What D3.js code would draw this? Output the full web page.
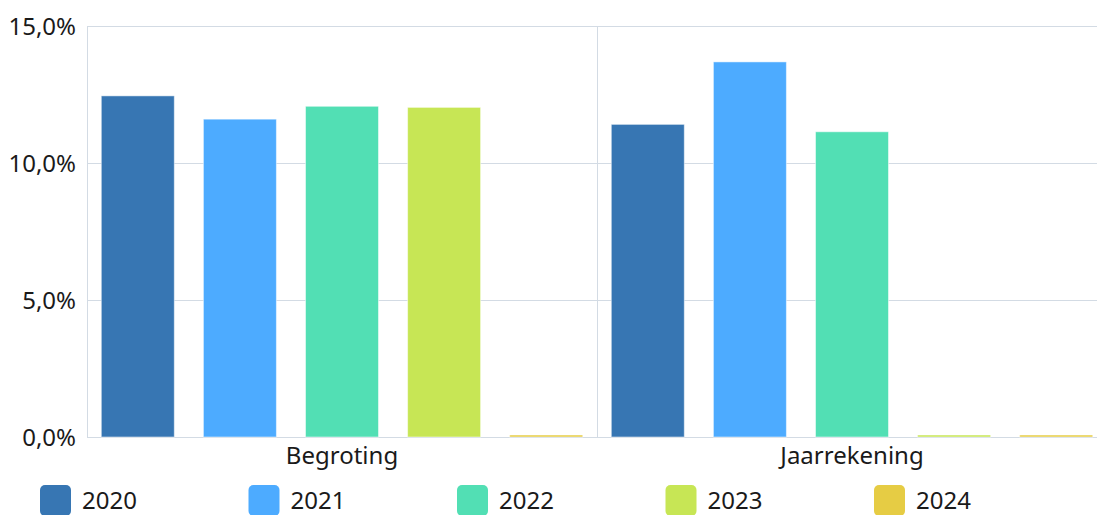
<!DOCTYPE html>
<html><head><meta charset="utf-8">
<script src="https://cdn.jsdelivr.net/npm/d3@7"></script>
<style>body{margin:0;background:#fff;overflow:hidden;}svg{display:block;font-family:"Noto Sans",sans-serif;}</style>
</head><body><svg id="c" width="1097" height="515"></svg>
<script>
const categories = ["Begroting", "Jaarrekening"];
const years = ["2020", "2021", "2022", "2023", "2024"];
const colors = ["#3776b3", "#4dabff", "#52dfb4", "#c7e655", "#e6cc44"];
const values2020 = [12.45, 11.41];
const values2021 = [11.6, 13.69];
const values2022 = [12.07, 11.14];
const values2023 = [12.03, 0];
const values2024 = [0, 0];
const yTicks = [0, 5, 10, 15];

const series = [values2020, values2021, values2022, values2023, values2024];
const svg = d3.select("#c");
const FONT = "\"Noto Sans\",sans-serif";
const m = {l: 87, r: 1107, t: 26, b: 437};
const x0 = d3.scaleBand().domain(categories).range([m.l, m.r]).padding(0);
const x1 = d3.scaleBand().domain(years).range([0, x0.bandwidth()]).paddingInner(0.285).paddingOuter(0.14);
const y = d3.scaleLinear().domain([0, 15]).range([m.b, m.t]);
const fmt = v => d3.format(".1f")(v).replace(".", ",") + "%";

// gridlines
svg.append("g").selectAll("line").data(yTicks).join("line")
  .attr("x1", m.l).attr("x2", 1097).attr("y1", d => y(d) + 0.5).attr("y2", d => y(d) + 0.5)
  .attr("stroke", "#d3dbe4").attr("stroke-width", 1);
// vertical separators
const vx = [m.l, x0("Jaarrekening")];
svg.append("g").selectAll("line").data(vx).join("line")
  .attr("x1", d => Math.round(d) + 0.5).attr("x2", d => Math.round(d) + 0.5)
  .attr("y1", m.t).attr("y2", m.b).attr("stroke", "#d3dbe4");

// bars
categories.forEach((c, ci) => {
  const g = svg.append("g").attr("transform", `translate(${x0(c)},0)`);
  years.forEach((yr, si) => {
    const v = series[si][ci];
    const top = y(v);
    const h = Math.max(m.b - top, 2);
    g.append("rect").attr("x", x1(yr)).attr("width", x1.bandwidth())
      .attr("y", m.b - h).attr("height", h)
      .attr("fill", colors[si]).attr("stroke", "rgba(255,255,255,0.5)").attr("stroke-width", 1);
  });
});

// y labels
const yAxis = d3.axisLeft(y).tickValues(yTicks).tickFormat(fmt).tickSize(0).tickPadding(11);
const ya = svg.append("g").attr("transform", `translate(${m.l},0)`).call(yAxis);
ya.select(".domain").remove();
ya.selectAll("text").attr("font-size", 24).attr("fill", "#1a1a1a").attr("font-family", FONT).attr("dy", "0.36em");

// x labels
const xAxis = d3.axisBottom(x0).tickSize(0).tickPadding(10);
const xa = svg.append("g").attr("transform", `translate(0,${m.b})`).call(xAxis);
xa.select(".domain").remove();
xa.selectAll("text").attr("font-size", 24).attr("fill", "#1a1a1a").attr("font-family", FONT);

// legend
const lg = svg.append("g");
years.forEach((yr, i) => {
  const lx = 40 + i * 208.5;
  lg.append("rect").attr("x", lx).attr("y", 485).attr("width", 31).attr("height", 31).attr("rx", 5)
    .attr("fill", colors[i]);
  lg.append("text").attr("x", lx + 42).attr("y", 509).attr("font-size", 24).attr("fill", "#1a1a1a")
    .attr("font-family", FONT).text(yr);
});
</script></body></html>
